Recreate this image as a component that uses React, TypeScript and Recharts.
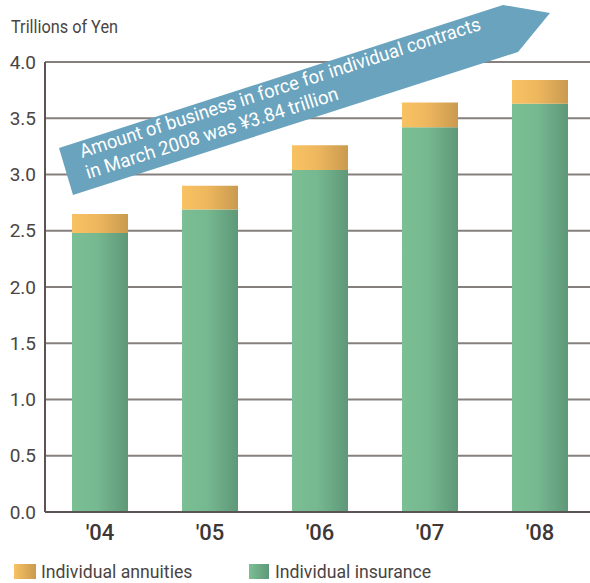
import React from "react";
import { BarChart, Bar, XAxis, YAxis, CartesianGrid, Legend } from "recharts";

const years = ["'04", "'05", "'06", "'07", "'08"];
const insurance = [2.48, 2.69, 3.04, 3.42, 3.63];
const annuities = [0.17, 0.21, 0.22, 0.22, 0.21];
const yTicks = [0, 0.5, 1, 1.5, 2, 2.5, 3, 3.5, 4];

const data = years.map((year, i) => ({
  year,
  insurance: insurance[i],
  annuities: annuities[i],
}));

const FONT = "Roboto, 'Noto Sans', sans-serif";
const TEXT = "#4a4443";

const LegendBox = () => (
  <div style={{ display: "flex", fontFamily: FONT, fontSize: 19, lineHeight: "17px", color: TEXT }}>
    <div style={{ display: "flex", alignItems: "center", width: 235 }}>
      <span style={{ width: 22, height: 15, background: "linear-gradient(90deg,#f8c263,#c99a4f)", marginRight: 5 }} />
      <span style={{ display: "inline-block", transform: "scaleX(0.93)", transformOrigin: "left" }}>Individual annuities</span>
    </div>
    <div style={{ display: "flex", alignItems: "center" }}>
      <span style={{ width: 20, height: 15, background: "linear-gradient(90deg,#7bbf94,#5e9878)", marginRight: 6 }} />
      <span style={{ display: "inline-block", transform: "scaleX(0.93)", transformOrigin: "left" }}>Individual insurance</span>
    </div>
  </div>
);

export default function App() {
  return (
    <div style={{ position: "absolute", left: 0, top: 0, width: 590, height: 583, overflow: "hidden", background: "#fff" }}>
      <BarChart width={600} height={600} data={data} margin={{ top: 62, right: 5, bottom: 48, left: 0 }}>
        <defs>
          <linearGradient id="gIns" x1="0" y1="0" x2="1" y2="0">
            <stop offset="0%" stopColor="#7bbf94" />
            <stop offset="45%" stopColor="#76b890" />
            <stop offset="100%" stopColor="#5e9878" />
          </linearGradient>
          <linearGradient id="gAnn" x1="0" y1="0" x2="1" y2="0">
            <stop offset="0%" stopColor="#f8c263" />
            <stop offset="45%" stopColor="#eeb75e" />
            <stop offset="100%" stopColor="#c99a4f" />
          </linearGradient>
        </defs>
        <CartesianGrid vertical={false} stroke="#85807e" strokeWidth={2} />
        <XAxis
          dataKey="year"
          tickLine={false}
          axisLine={{ stroke: "#5a5452", strokeWidth: 2 }}
          tick={{ fontFamily: FONT, fontSize: 22, fill: "#3d3735", fontWeight: 500 }}
          tickMargin={6}
          height={40}
        />
        <YAxis
          width={45}
          domain={[0, 4]}
          ticks={yTicks}
          interval={0}
          tickFormatter={(v: number) => v.toFixed(1)}
          tickLine={false}
          axisLine={{ stroke: "#5a5452", strokeWidth: 2 }}
          tick={{ fontFamily: FONT, fontSize: 19, fill: TEXT }}
          tickMargin={3}
        />
        <Legend
          verticalAlign="middle"
          layout="horizontal"
          content={() => <LegendBox />}
          wrapperStyle={{ top: 563, left: 14, width: 520 }}
        />
        <Bar dataKey="insurance" stackId="a" barSize={56} fill="url(#gIns)" isAnimationActive={false} />
        <Bar dataKey="annuities" stackId="a" barSize={56} fill="url(#gAnn)" isAnimationActive={false} />
      </BarChart>
      <svg width={590} height={583} style={{ position: "absolute", left: 0, top: 0, pointerEvents: "none" }}>
        <text x={11} y={33} fontFamily={FONT} fontSize={18} fill={TEXT} textLength={107} lengthAdjust="spacingAndGlyphs">
          Trillions of Yen
        </text>
        <polygon points="59,148 503,5 550,13 518,52 73,195" fill="#6aa3bd" />
        <g transform="rotate(-17.8 82 158)">
          <text x={82} y={158} fontFamily={FONT} fontSize={19} fill="#fff" textLength={420} lengthAdjust="spacingAndGlyphs">
            Amount of business in force for individual contracts
          </text>
        </g>
        <g transform="rotate(-17.6 88 179)">
          <text x={88} y={179} fontFamily={FONT} fontSize={19} fill="#fff" textLength={264} lengthAdjust="spacingAndGlyphs">
            in March 2008 was ¥3.84 trillion
          </text>
        </g>
      </svg>
    </div>
  );
}
